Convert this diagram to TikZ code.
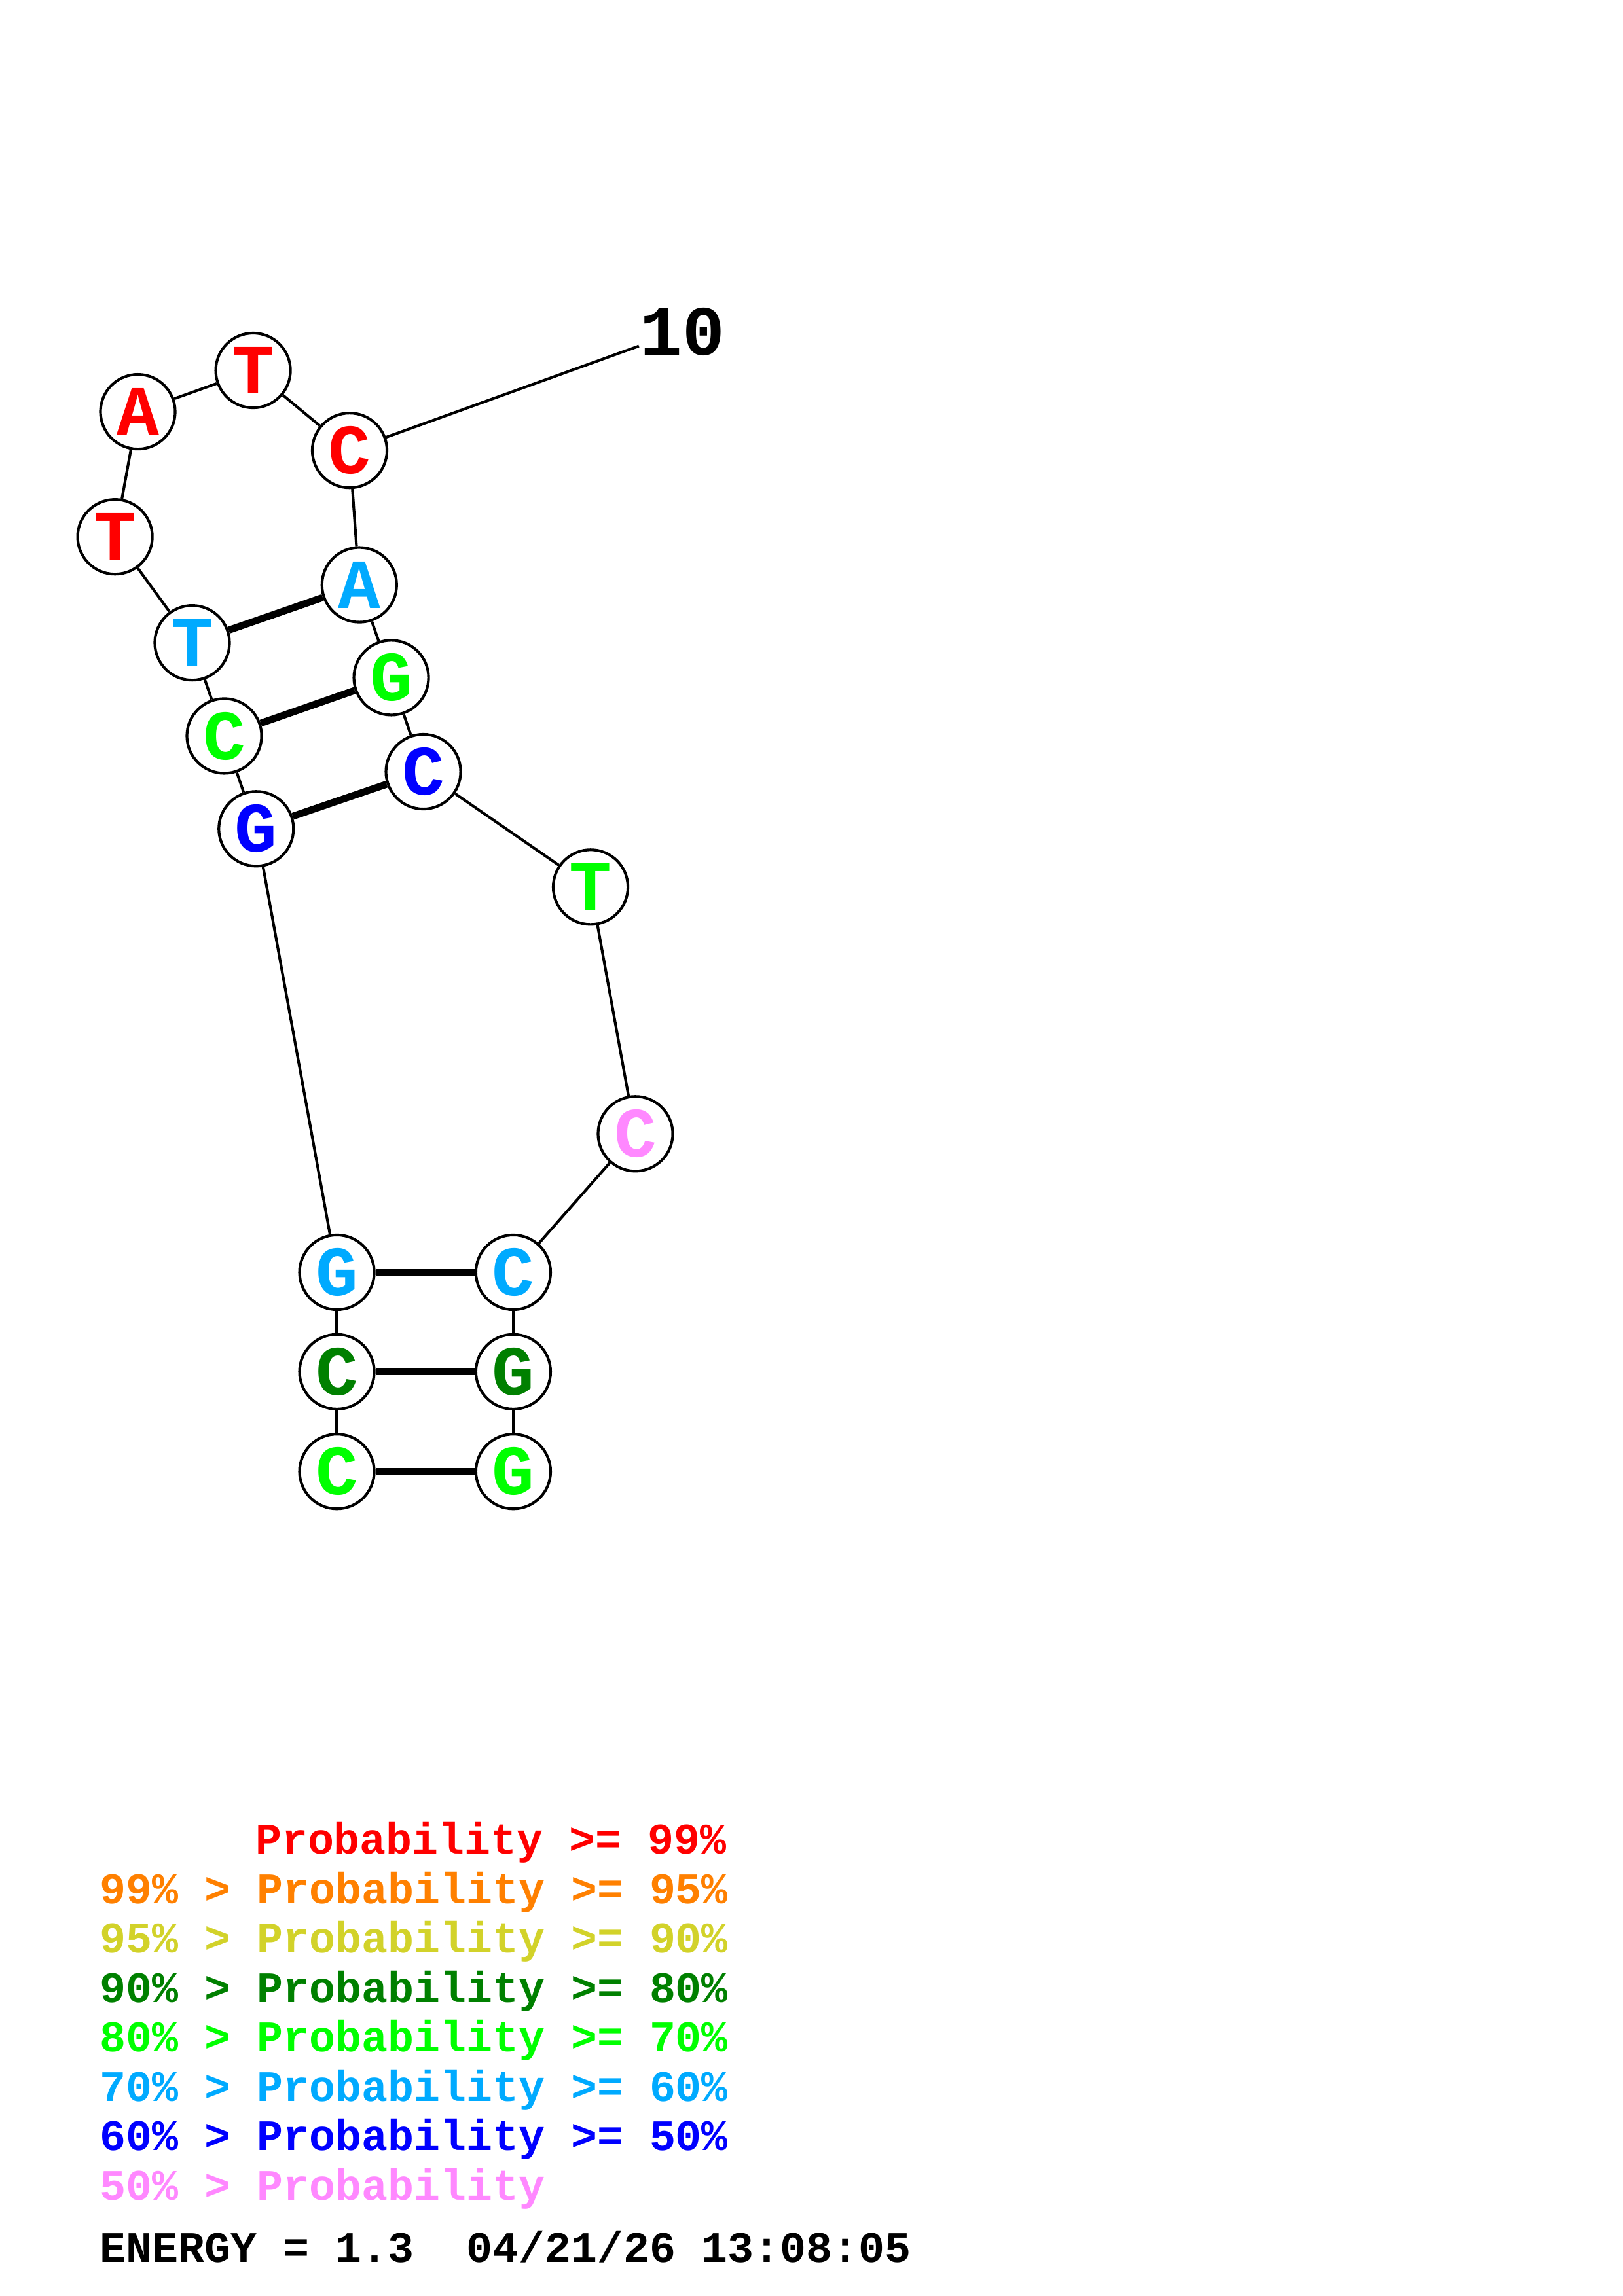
\documentclass[tikz,border=0pt]{standalone}
\usepackage{fontspec}
\setmonofont{Liberation Mono}
\definecolor{pRed}{HTML}{FF0000}
\definecolor{pOrange}{HTML}{FF8000}
\definecolor{pYellow}{HTML}{D2D22A}
\definecolor{pDkGreen}{HTML}{008000}
\definecolor{pGreen}{HTML}{00FF00}
\definecolor{pCyan}{HTML}{00AAFF}
\definecolor{pBlue}{HTML}{0000FF}
\definecolor{pPink}{HTML}{FF88FF}
\begin{document}
\begin{tikzpicture}[x=0.018953cm,y=-0.018953cm,
  base/.style={circle, draw=black, line width=1pt, minimum size=27.5pt, inner sep=0pt, fill=white,
    font=\ttfamily\bfseries\fontsize{26pt}{26pt}\selectfont},
  bb/.style={draw=black, line width=1pt},
  pair/.style={draw=black, line width=2.6pt},
  leg/.style={anchor=base west, inner sep=0pt, font=\ttfamily\bfseries\fontsize{16.05pt}{16pt}\selectfont}]
\useasboundingbox (0,0) rectangle (1108,1568);

% nodes
\node[base, text=pGreen]   (n1)  at (230,1004.9) {C};
\node[base, text=pDkGreen] (n2)  at (230,936.8)  {C};
\node[base, text=pCyan]    (n3)  at (230,868.9)  {G};
\node[base, text=pBlue]    (n4)  at (174.9,566)  {G};
\node[base, text=pGreen]   (n5)  at (153.1,502.6) {C};
\node[base, text=pCyan]    (n6)  at (131.2,439)  {T};
\node[base, text=pRed]     (n7)  at (78.5,366.6) {T};
\node[base, text=pRed]     (n8)  at (94.1,281.2) {A};
\node[base, text=pRed]     (n9)  at (172.8,253)  {T};
\node[base, text=pRed]     (n10) at (238.7,307.6) {C};
\node[base, text=pCyan]    (n11) at (245.3,399.4) {A};
\node[base, text=pGreen]   (n12) at (267.1,462.8) {G};
\node[base, text=pBlue]    (n13) at (289,527)    {C};
\node[base, text=pGreen]   (n14) at (403.2,605.8) {T};
\node[base, text=pPink]    (n15) at (433.8,774.3) {C};
\node[base, text=pCyan]    (n16) at (350.4,868.9) {C};
\node[base, text=pDkGreen] (n17) at (350.4,936.8) {G};
\node[base, text=pGreen]   (n18) at (350.4,1004.9) {G};

% backbone
\foreach \a/\b in {n1/n2,n2/n3,n3/n4,n4/n5,n5/n6,n6/n7,n7/n8,n8/n9,n9/n10,n10/n11,n11/n12,n12/n13,n13/n14,n14/n15,n15/n16,n16/n17,n17/n18}
  \draw[bb] (\a) -- (\b);

% pairs
\foreach \a/\b in {n1/n18,n2/n17,n3/n16,n4/n13,n5/n12,n6/n11}
  \draw[pair] (\a) -- (\b);

% index label
\coordinate (lend) at (436.2,236.3);
\node[anchor=base west, inner sep=0pt, font=\ttfamily\bfseries\fontsize{26pt}{26pt}\selectfont] (lbl) at (436.5,242.3) {10};
\draw[bb] (n10) -- (lend);

% legend
\node[leg, text=pRed]     (l1) at (174,1266) {Probability >= 99\%};
\node[leg, text=pOrange]  (l2) at (68,1299.8) {99\% > Probability >= 95\%};
\node[leg, text=pYellow]  (l3) at (68,1333.5) {95\% > Probability >= 90\%};
\node[leg, text=pDkGreen] (l4) at (68,1367.3) {90\% > Probability >= 80\%};
\node[leg, text=pGreen]   (l5) at (68,1401.0) {80\% > Probability >= 70\%};
\node[leg, text=pCyan]    (l6) at (68,1434.8) {70\% > Probability >= 60\%};
\node[leg, text=pBlue]    (l7) at (68,1468.5) {60\% > Probability >= 50\%};
\node[leg, text=pPink]    (l8) at (68,1502.3) {50\% > Probability};
\node[leg, text=black]    (en) at (68,1545) {ENERGY = 1.3~ 04/21/26 13:08:05};
\end{tikzpicture}
\end{document}
